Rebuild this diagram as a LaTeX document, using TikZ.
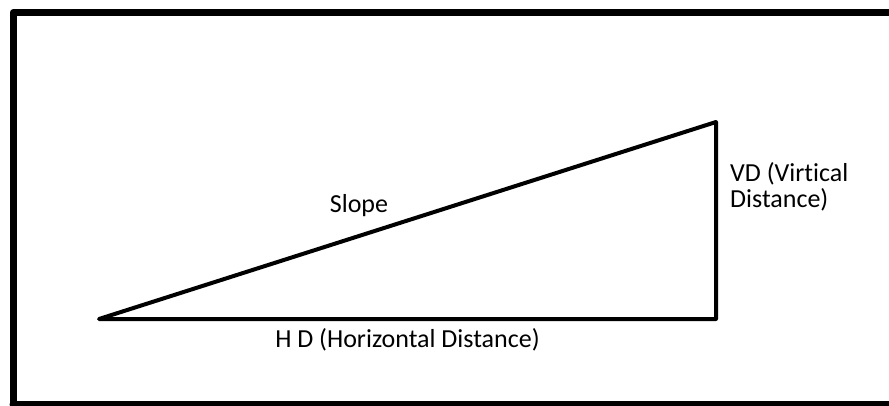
\documentclass[tikz,border=0pt]{standalone}
\usepackage{fontspec}
\setmainfont{Carlito}[Ligatures={NoCommon}]
\begin{document}
\begin{tikzpicture}[x=1pt,y=-1pt,
  frameline/.style={line width=7pt,line cap=round,line join=round},
  triline/.style={line width=4pt,line join=round},
  lbl/.style={font=\fontsize{26}{26}\selectfont,inner sep=0pt}]
\useasboundingbox (0,0) rectangle (889,405);
\clip (0,0) rectangle (889,405);
\fill[white] (0,0) rectangle (889,405);
\draw[frameline] (13,404) -- (13,12.5) -- (900,12.5);
\draw[frameline] (13,404) -- (900,404);
\coordinate (A) at (99,319);
\coordinate (B) at (716,319);
\coordinate (C) at (716,122);
\draw[triline] (A) -- (B) -- (C) -- cycle;
\node[lbl,anchor=base] (slope) at (359,212) {Slope};
\node[lbl,anchor=base] (hd) at (407.5,347) {H D (Horizontal Distance)};
\node[lbl,align=left,anchor=base west] (vd) at (730,207.5) {VD (Virtical\\Distance)};
\end{tikzpicture}
\end{document}
